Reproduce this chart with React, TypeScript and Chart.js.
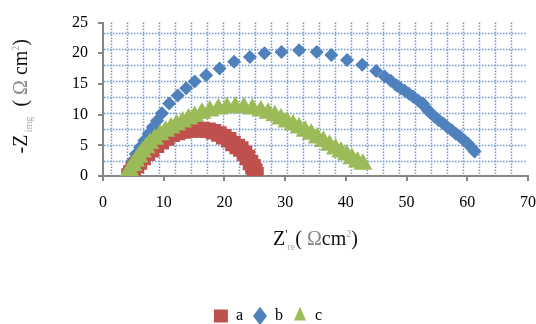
import React, { useEffect, useRef } from 'react';
import { Chart, registerables } from 'chart.js';

Chart.register(...registerables);

// ---- data ----
const seriesNames = ['a', 'b', 'c'];

const aX = [4.3, 4.6, 5.0, 5.5, 6.0, 6.6, 7.3, 8.0, 8.8, 9.6, 10.5, 11.4, 12.3, 13.3, 14.3, 15.3, 16.3, 17.3, 18.2, 19.1, 19.9, 20.7, 21.4, 22.1, 22.7, 23.3, 23.8, 24.3, 24.7, 25.0, 25.2];
const aY = [0.0, 0.5, 1.0, 1.7, 2.3, 3.0, 3.7, 4.3, 5.0, 5.6, 6.2, 6.8, 7.1, 7.35, 7.5, 7.55, 7.55, 7.45, 7.2, 6.85, 6.4, 5.9, 5.3, 4.8, 4.4, 3.7, 3.0, 2.2, 1.5, 0.8, 0.2];

const bX = [4.2, 4.5, 4.9, 5.4, 6.1, 6.8, 7.5, 8.2, 8.9, 9.7, 10.9, 12.3, 13.7, 15.1, 17.0, 19.2, 21.6, 24.2, 26.6, 29.4, 32.3, 35.2, 37.6, 40.2, 42.7, 45.0, 46.4, 47.4, 48.3, 49.0, 49.7, 50.4, 51.1, 51.9, 52.7, 53.1, 53.5, 54.0, 54.6, 55.3, 56.0, 56.7, 57.4, 58.1, 58.8, 59.5, 60.1, 60.7, 61.2];
const bY = [0.8, 1.5, 2.5, 3.6, 4.7, 5.8, 6.9, 8.0, 9.0, 10.2, 11.8, 13.1, 14.3, 15.4, 16.4, 17.5, 18.6, 19.4, 20.0, 20.2, 20.5, 20.2, 19.7, 18.9, 18.1, 17.1, 16.2, 15.5, 14.8, 14.3, 13.9, 13.4, 12.9, 12.3, 11.8, 11.2, 10.7, 10.2, 9.7, 9.1, 8.6, 8.0, 7.5, 6.9, 6.4, 5.8, 5.3, 4.6, 4.0];

const cX = [4.0, 4.4, 4.9, 5.4, 5.9, 6.5, 7.1, 7.7, 8.5, 9.4, 10.3, 11.2, 12.1, 13.1, 14.1, 15.1, 16.3, 17.6, 19.0, 20.4, 21.8, 23.2, 24.6, 26.0, 27.2, 28.3, 29.3, 30.3, 31.3, 32.3, 33.3, 34.3, 35.3, 36.3, 37.3, 38.3, 39.2, 40.1, 41.0, 41.9, 42.8];
const cY = [0.2, 0.9, 1.7, 2.4, 3.1, 3.9, 4.6, 5.3, 6.0, 6.7, 7.3, 7.8, 8.3, 8.8, 9.3, 9.7, 10.2, 10.6, 10.9, 11.1, 11.2, 11.1, 10.9, 10.6, 10.2, 9.8, 9.3, 8.8, 8.3, 7.8, 7.3, 6.8, 6.2, 5.6, 5.0, 4.4, 3.9, 3.4, 2.8, 2.3, 1.9];

const xMin = 0, xMax = 70, xStep = 10;
const yMin = 0, yMax = 25, yStep = 5;

const colors = ['#C0504D', '#4F81BD', '#9BBB59'];
const FONT = "'Liberation Serif', 'Times New Roman', serif";

type Run = { t: string; s: number; dy?: number; color?: string };

function runsWidth(ctx: CanvasRenderingContext2D, runs: Run[]) {
  let w = 0;
  for (const r of runs) {
    ctx.font = `${r.s}px ${FONT}`;
    w += ctx.measureText(r.t).width;
  }
  return w;
}

function drawRuns(ctx: CanvasRenderingContext2D, runs: Run[], startX: number, baseY: number) {
  let x = startX;
  ctx.textBaseline = 'alphabetic';
  ctx.textAlign = 'left';
  for (const r of runs) {
    ctx.font = `${r.s}px ${FONT}`;
    ctx.fillStyle = r.color || '#111';
    ctx.fillText(r.t, x, baseY + (r.dy || 0));
    x += ctx.measureText(r.t).width;
  }
}

const xTitleRuns: Run[] = [
  { t: 'Z', s: 20 },
  { t: "'", s: 12, dy: -7 },
  { t: 're', s: 10, dy: 5, color: '#aaa' },
  { t: '( ', s: 20 },
  { t: 'Ω', s: 20, color: '#888' },
  { t: 'cm', s: 20 },
  { t: '2', s: 10, dy: -8, color: '#999' },
  { t: ')', s: 20 },
];

const yTitleRuns: Run[] = [
  { t: '-Z', s: 20 },
  { t: ' img', s: 10, dy: 5, color: '#aaa' },
  { t: '  ( ', s: 20 },
  { t: 'Ω', s: 20, color: '#888' },
  { t: ' cm', s: 20 },
  { t: '2', s: 10, dy: -8, color: '#999' },
  { t: ')', s: 20 },
];

const gridPattern = {
  id: 'gridPattern',
  beforeDatasetsDraw(chart: any) {
    const { ctx, chartArea: a } = chart;
    ctx.save();
    ctx.strokeStyle = '#6E98D2';
    ctx.lineWidth = 1.5;
    ctx.setLineDash([1.5, 1.5]);
    ctx.beginPath();
    for (let x = Math.round(a.left) + 8.5; x < a.right - 8; x += 16) {
      ctx.moveTo(x, a.top);
      ctx.lineTo(x, a.bottom - 1);
    }
    for (let y = Math.round(a.bottom) - 14.5; y > a.top + 6; y -= 16) {
      ctx.moveTo(a.left + 1, y);
      ctx.lineTo(a.right - 2, y);
    }
    ctx.stroke();
    ctx.restore();
  },
};

const titles = {
  id: 'titles',
  afterDraw(chart: any) {
    const { ctx, chartArea: a } = chart;
    ctx.save();
    const wx = runsWidth(ctx, xTitleRuns);
    drawRuns(ctx, xTitleRuns, (a.left + a.right) / 2 - wx / 2, 245);
    ctx.restore();

    ctx.save();
    const wy = runsWidth(ctx, yTitleRuns);
    ctx.translate(26.5, (a.top + a.bottom) / 2 - 3);
    ctx.rotate(-Math.PI / 2);
    drawRuns(ctx, yTitleRuns, -wy / 2, 0);
    ctx.restore();
  },
};

export default function App() {
  const ref = useRef<HTMLCanvasElement>(null);

  useEffect(() => {
    const canvas = ref.current;
    if (!canvas) return;
    const mk = (xs: number[], ys: number[]) => xs.map((x, i) => ({ x, y: ys[i] }));
    const axisGray = '#868686';
    const tickFont = { family: FONT, size: 16 };

    const chart = new Chart(canvas, {
      type: 'scatter',
      data: {
        datasets: [
          {
            label: seriesNames[0],
            data: mk(aX, aY),
            pointStyle: 'rect',
            pointRadius: 11,
            backgroundColor: colors[0],
            borderColor: colors[0],
            borderWidth: 0,
            order: 2,
          },
          {
            label: seriesNames[1],
            data: mk(bX, bY),
            pointStyle: 'rectRot',
            pointRadius: 7,
            backgroundColor: colors[1],
            borderColor: colors[1],
            borderWidth: 0,
            order: 3,
          },
          {
            label: seriesNames[2],
            data: mk(cX, cY),
            pointStyle: 'triangle',
            pointRadius: 11,
            backgroundColor: colors[2],
            borderColor: colors[2],
            borderWidth: 0,
            order: 1,
          },
        ],
      },
      options: {
        animation: false,
        responsive: false,
        events: [],
        layout: { autoPadding: false, padding: { left: 0, right: 0, top: 22.5, bottom: -10 } },
        scales: {
          x: {
            type: 'linear',
            min: xMin,
            max: xMax,
            ticks: { stepSize: xStep, font: tickFont, color: '#000', padding: 12 },
            grid: { display: true, drawOnChartArea: false, drawTicks: true, tickLength: 5, color: axisGray, lineWidth: 2 },
            border: { display: true, color: axisGray, width: 2 },
            afterFit(scale: any) {
              scale.height = 122;
              scale.paddingRight = 8;
              scale.paddingLeft = 4;
            },
          },
          y: {
            type: 'linear',
            min: yMin,
            max: yMax,
            ticks: { stepSize: yStep, font: tickFont, color: '#000', padding: 10 },
            grid: { display: true, drawOnChartArea: false, drawTicks: true, tickLength: 5, color: axisGray, lineWidth: 2 },
            border: { display: true, color: axisGray, width: 2 },
            afterFit(scale: any) {
              scale.width = 103;
            },
          },
        },
        plugins: {
          legend: {
            display: true,
            position: 'bottom',
            labels: {
              usePointStyle: true,
              boxHeight: 13,
              pointStyleWidth: 14,
              padding: 10,
              color: '#000',
              font: { family: FONT, size: 16 },
              sort: (p: any, q: any) => p.datasetIndex - q.datasetIndex,
            },
          },
          tooltip: { enabled: false },
        },
      },
      plugins: [gridPattern, titles],
    } as any);

    return () => chart.destroy();
  }, []);

  return (
    <div style={{ position: 'fixed', left: 0, top: 0, width: 536, height: 324, background: '#fff' }}>
      <canvas ref={ref} width={536} height={324} style={{ display: 'block', width: 536, height: 324 }} />
    </div>
  );
}
